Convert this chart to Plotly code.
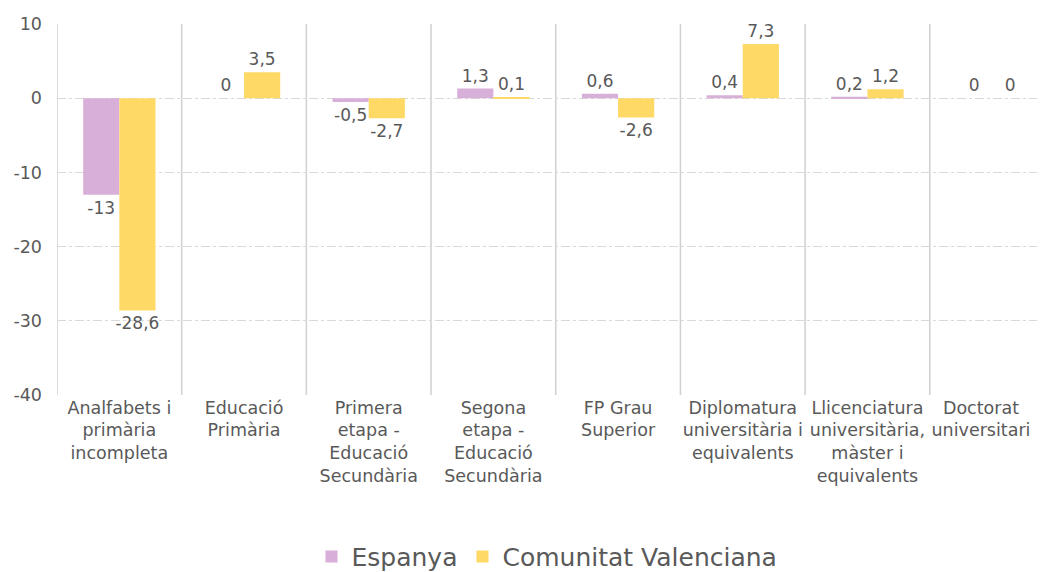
import plotly.graph_objects as go

categories = [
    "Analfabets i<br>primària<br>incompleta",
    "Educació<br>Primària",
    "Primera<br>etapa -<br>Educació<br>Secundària",
    "Segona<br>etapa -<br>Educació<br>Secundària",
    "FP Grau<br>Superior",
    "Diplomatura<br>universitària i<br>equivalents",
    "Llicenciatura<br>universitària,<br>màster i<br>equivalents",
    # trailing spaces nudge the last label left so it stays inside the window
    "Doctorat&nbsp;&nbsp;&nbsp;&nbsp;<br>universitari&nbsp;&nbsp;&nbsp;&nbsp;",
]
espanya = [-13, 0, -0.5, 1.3, 0.6, 0.4, 0.2, 0]
valenciana = [-28.6, 3.5, -2.7, 0.1, -2.6, 7.3, 1.2, 0]
y_ticks = [10, 0, -10, -20, -30, -40]

PURPLE = "#D8AFD8"
YELLOW = "#FFD966"
TEXT = "#595959"
FONT = "DejaVu Sans"


def fmt(v):
    return f"{v:g}".replace(".", ",")


fig = go.Figure()

for name, vals, color in [
    ("Espanya", espanya, PURPLE),
    ("Comunitat Valenciana", valenciana, YELLOW),
]:
    fig.add_trace(
        go.Bar(
            x=list(range(len(categories))),
            y=vals,
            name=name,
            marker=dict(color=color, line=dict(width=0)),
            text=[fmt(v) for v in vals],
            textposition="outside",
            textfont=dict(size=17, color=TEXT, family=FONT),
            cliponaxis=False,
        )
    )

# vertical separators between categories
for i in range(len(categories)):
    fig.add_shape(
        type="line",
        xref="x",
        yref="paper",
        x0=i - 0.5,
        x1=i - 0.5,
        y0=0,
        y1=1,
        line=dict(color="#D0D0D0", width=1.5),
        layer="below",
    )

# the page body has an 8px margin, so the figure sits 8px in from the corner
fig.update_layout(
    width=1029,
    height=564,
    margin=dict(l=49, r=0, t=16, b=177, autoexpand=False),
    paper_bgcolor="white",
    plot_bgcolor="white",
    barmode="group",
    bargap=0.42,
    bargroupgap=0,
    font=dict(family=FONT, color=TEXT, size=17),
    uniformtext=dict(minsize=17, mode="show"),
    showlegend=True,
    legend=dict(
        orientation="h",
        x=0.5,
        xanchor="center",
        yref="container",
        y=0.027,
        yanchor="middle",
        font=dict(size=25, color=TEXT, family=FONT),
        itemwidth=30,
    ),
    xaxis=dict(
        tickmode="array",
        tickvals=list(range(len(categories))),
        ticktext=categories,
        range=[-0.5, 7.36],
        showgrid=False,
        zeroline=False,
        showline=False,
        ticks="",
        tickangle=0,
        automargin=False,
        ticklabeloverflow="allow",
        tickfont=dict(size=17.5, color=TEXT, family=FONT),
    ),
    yaxis=dict(
        range=[-40, 10],
        tickmode="array",
        tickvals=y_ticks,
        ticktext=[str(v) for v in y_ticks],
        showgrid=True,
        gridcolor="#D9D9D9",
        griddash="dashdot",
        gridwidth=1,
        zeroline=False,
        showline=False,
        ticks="",
        automargin=False,
        ticklabelstandoff=14,
        tickfont=dict(size=17.5, color=TEXT, family=FONT),
    ),
)

fig.write_html("out.html")
